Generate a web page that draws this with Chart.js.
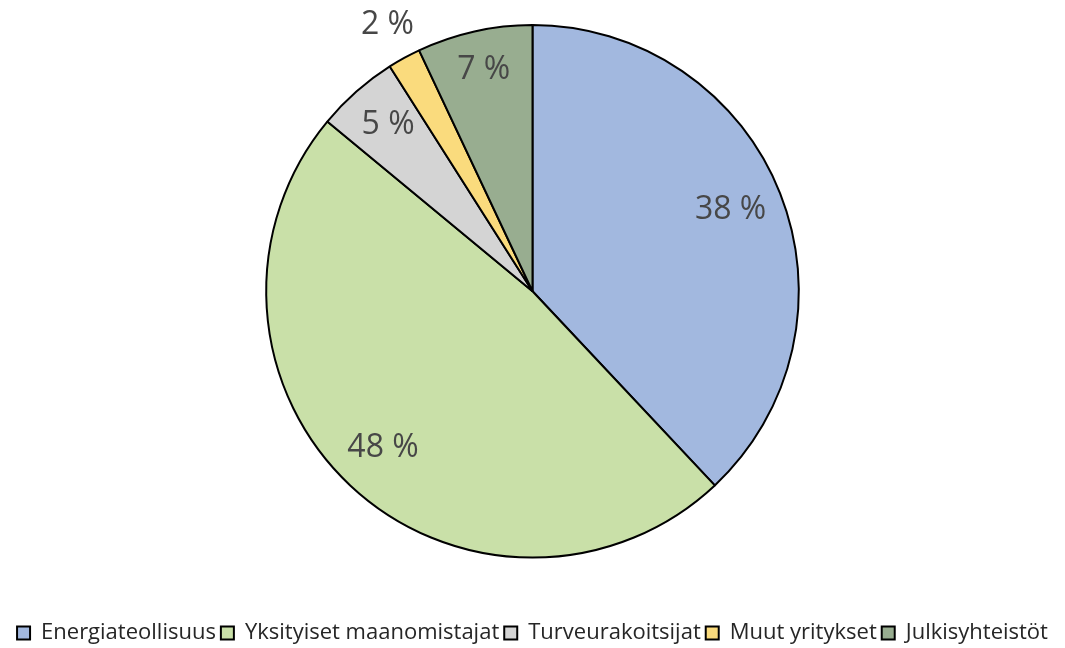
<!DOCTYPE html>
<html>
<head>
<meta charset="utf-8">
<script src="https://cdn.jsdelivr.net/npm/chart.js@4"></script>
<style>
  html, body { margin: 0; padding: 0; background: #fff; }
  canvas { display: block; }
</style>
</head>
<body>
<canvas id="chartPie" width="1065" height="648"></canvas>
<script>
const categories = ['Energiateollisuus', 'Yksityiset maanomistajat', 'Turveurakoitsijat', 'Muut yritykset', 'Julkisyhteistöt'];
const shares = [38, 48, 5, 2, 7];
const sliceColors = ['#a2b8df', '#c9e0a8', '#d4d4d4', '#fadb7d', '#98ad90'];
// label distance from centre, as a share of the radius
const labelRadius = [0.8, 0.82, 0.82, 1.13, 0.84];

// draws the "38 %" style labels
const pctLabels = {
  id: 'pctLabels',
  afterDatasetsDraw(chart) {
    const ctx = chart.ctx;
    const meta = chart.getDatasetMeta(0);
    ctx.save();
    ctx.font = '32px "Open Sans"';
    ctx.fillStyle = '#474747';
    ctx.textAlign = 'center';
    ctx.textBaseline = 'middle';
    meta.data.forEach((arc, i) => {
      const mid = (arc.startAngle + arc.endAngle) / 2;
      const r = arc.outerRadius * labelRadius[i];
      ctx.fillText(shares[i] + ' %', arc.x + Math.cos(mid) * r, arc.y + Math.sin(mid) * r - 3);
    });
    ctx.restore();
  }
};

const ctx = document.getElementById('chartPie').getContext('2d');
new Chart(ctx, {
  type: 'pie',
  data: {
    labels: categories,
    datasets: [{
      data: shares,
      backgroundColor: sliceColors,
      borderColor: '#000',
      borderWidth: 2
    }]
  },
  options: {
    responsive: false,
    animation: false,
    layout: { padding: { top: 24, bottom: -6 } },
    plugins: {
      tooltip: { enabled: false },
      legend: {
        position: 'bottom',
        title: { display: true, text: ' ', font: { size: 12 }, padding: { top: 0, bottom: 44 } },
        labels: {
          boxWidth: 13,
          boxHeight: 13,
          padding: 5,
          color: '#262626',
          font: { family: '"Open Sans"', size: 22, lineHeight: 1 },
          generateLabels(chart) {
            return categories.map((c, i) => ({
              text: c,
              fillStyle: sliceColors[i],
              strokeStyle: '#000',
              fontColor: '#262626',
              lineWidth: 2,
              index: i
            }));
          }
        }
      }
    }
  },
  plugins: [pctLabels]
});
</script>
</body>
</html>
